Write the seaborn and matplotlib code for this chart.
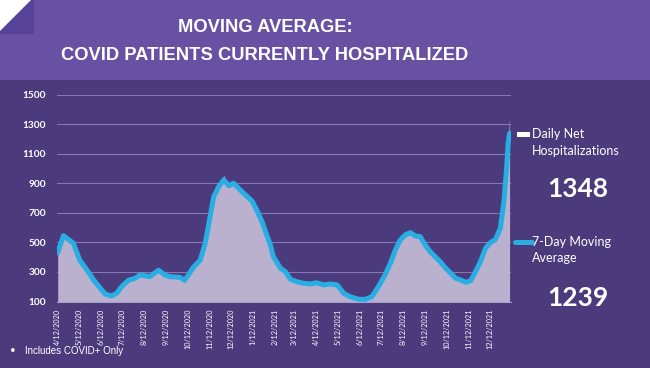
import pandas as pd
import numpy as np
import seaborn as sns
import matplotlib.pyplot as plt
from matplotlib.patches import Rectangle, Polygon
from matplotlib.lines import Line2D

# values
dates = ['2020-04-12', '2020-04-20', '2020-05-04', '2020-05-13', '2020-05-23', '2020-06-01',
         '2020-06-11', '2020-06-18', '2020-06-27', '2020-07-04', '2020-07-11', '2020-07-21',
         '2020-07-30', '2020-08-06', '2020-08-20', '2020-09-01', '2020-09-10', '2020-09-17',
         '2020-10-01', '2020-10-08', '2020-10-20', '2020-10-30', '2020-11-06', '2020-11-13',
         '2020-11-18', '2020-11-25', '2020-12-02', '2020-12-09', '2020-12-16', '2020-12-25',
         '2021-01-04', '2021-01-11', '2021-01-18', '2021-01-25', '2021-02-01', '2021-02-06',
         '2021-02-10', '2021-02-20', '2021-02-27', '2021-03-06', '2021-03-15', '2021-03-25',
         '2021-04-03', '2021-04-12', '2021-04-22', '2021-05-01', '2021-05-11', '2021-05-20',
         '2021-05-29', '2021-06-10', '2021-06-20', '2021-06-29', '2021-07-08', '2021-07-18',
         '2021-07-25', '2021-08-01', '2021-08-08', '2021-08-15', '2021-08-22', '2021-08-29',
         '2021-09-05', '2021-09-12', '2021-09-19', '2021-09-26', '2021-10-03', '2021-10-11',
         '2021-10-18', '2021-10-25', '2021-11-01', '2021-11-08', '2021-11-15', '2021-11-22',
         '2021-11-29', '2021-12-06', '2021-12-13', '2021-12-20', '2021-12-27', '2022-01-01',
         '2022-01-05', '2022-01-07', '2022-01-09']

moving_avg = [430, 545, 495, 380, 315, 250, 190, 150, 138, 155, 200, 245,
              257, 280, 268, 312, 280, 268, 264, 243, 330, 381, 495, 680,
              811, 878, 924, 885, 901, 856, 811, 780, 715, 640, 545, 480,
              404, 325, 302, 250, 234, 223, 219, 227, 212, 219, 212, 156,
              133, 115, 115, 133, 200, 285, 359, 449, 517, 551, 566, 544,
              539, 483, 438, 404, 370, 325, 291, 257, 246, 230, 240, 302,
              370, 460, 499, 520, 595, 777, 1014, 1172, 1239]

daily_net = [410, 565, 490, 375, 310, 245, 185, 148, 135, 150, 195, 235,
             255, 275, 262, 318, 276, 262, 260, 238, 325, 375, 490, 675,
             805, 870, 955, 870, 890, 850, 800, 760, 700, 630, 540, 470,
             398, 320, 298, 245, 230, 220, 215, 222, 208, 215, 208, 150,
             128, 112, 112, 128, 195, 280, 352, 445, 512, 545, 575, 530,
             535, 478, 432, 398, 365, 320, 286, 252, 240, 226, 236, 296,
             365, 455, 495, 515, 590, 770, 1010, 1170, 1348]

month_ticks = pd.date_range('2020-04-01', '2021-12-01', freq='MS') + pd.Timedelta(days=11)
tick_labels = [f"{d.month}/{d.day}/{d.year}" for d in month_ticks]
y_ticks = [100, 300, 500, 700, 900, 1100, 1300, 1500]

df = pd.DataFrame({'date': pd.to_datetime(dates), 'avg': moving_avg, 'daily': daily_net})

bg = '#4b3a7c'
header = '#6851a2'
line_col = '#29aee4'
area_col = '#b9b1cd'

sns.set_style('dark')
plt.rcParams['font.family'] = ['Lato', 'DejaVu Sans']

fig = plt.figure(figsize=(6.5, 3.68), dpi=100, facecolor=bg)
fig.add_artist(Rectangle((0, 1 - 80 / 368), 1, 80 / 368, transform=fig.transFigure,
                         facecolor=header, edgecolor='none'))
fig.add_artist(Rectangle((0, 1 - 34 / 368), 34 / 650, 34 / 368, transform=fig.transFigure,
                         facecolor='#57429a', edgecolor='none'))
fig.add_artist(Polygon([(0, 1), (31 / 650, 1), (0, 1 - 31 / 368)], closed=True,
                       transform=fig.transFigure, facecolor='white', edgecolor='none'))

title_font = ['Liberation Sans', 'DejaVu Sans']
fig.text(265 / 650, 1 - 28 / 368, 'MOVING AVERAGE:', ha='center', va='center', color='white',
         fontsize=13.2, fontweight='bold', family=title_font)
fig.text(265 / 650, 1 - 55 / 368, 'COVID PATIENTS CURRENTLY HOSPITALIZED', ha='center',
         va='center', color='white', fontsize=13.2, fontweight='bold', family=title_font)

ax = fig.add_axes([57 / 650, 1 - 301.5 / 368, (511 - 57) / 650, (301.5 - 94.7) / 368])
ax.set_facecolor(bg)

ax.fill_between(df['date'], 100, df['daily'], color=area_col, linewidth=0, zorder=2)
sns.lineplot(data=df, x='date', y='avg', color=line_col, linewidth=3.6, ax=ax, zorder=3)

ax.set_ylim(100, 1500)
ax.set_xlim(pd.Timestamp('2020-04-11'), pd.Timestamp('2022-01-11'))
ax.set_yticks(y_ticks)
ax.set_yticklabels([str(v) for v in y_ticks], color='white', fontsize=7.3, fontweight='bold')
ax.set_xticks(month_ticks)
ax.set_xticklabels(tick_labels, rotation=90, color='white', fontsize=5.2)
ax.tick_params(axis='y', length=0, pad=8)
ax.tick_params(axis='x', length=3, color='#a89cc8', width=0.6, pad=2)
ax.grid(axis='y', color='#8676b6', linewidth=0.8, zorder=1)
ax.grid(axis='x', visible=False)
for s in ['top', 'right', 'left']:
    ax.spines[s].set_visible(False)
ax.spines['bottom'].set_color('#a89cc8')
ax.spines['bottom'].set_linewidth(0.8)
ax.set_xlabel('')
ax.set_ylabel('')

# legend and callouts
fig.add_artist(Rectangle((517 / 650, 1 - 137 / 368), 13 / 650, 5 / 368, transform=fig.transFigure,
                         facecolor='white', edgecolor='none'))
fig.text(532 / 650, 1 - 134 / 368, 'Daily Net', color='white', fontsize=9, va='center')
fig.text(532 / 650, 1 - 151 / 368, 'Hospitalizations', color='white', fontsize=9, va='center')
fig.text(578 / 650, 1 - 189 / 368, '1348', color='white', fontsize=19, fontweight='bold',
         ha='center', va='center')
fig.add_artist(Line2D([515 / 650, 532 / 650], [1 - 242 / 368, 1 - 242 / 368],
                      transform=fig.transFigure, color=line_col, linewidth=3.6))
fig.text(532 / 650, 1 - 242 / 368, '7-Day Moving', color='white', fontsize=9, va='center')
fig.text(532 / 650, 1 - 258 / 368, 'Average', color='white', fontsize=9, va='center')
fig.text(578 / 650, 1 - 298 / 368, '1239', color='white', fontsize=19, fontweight='bold',
         ha='center', va='center')

fig.text(10 / 650, 1 - 351 / 368, '•', color='white', fontsize=7, va='center')
fig.text(25 / 650, 1 - 351 / 368, 'Includes COVID+ Only', color='white', fontsize=7, va='center',
         family=['Liberation Sans', 'DejaVu Sans'])

fig.savefig('out.png', dpi=100, facecolor=bg)
